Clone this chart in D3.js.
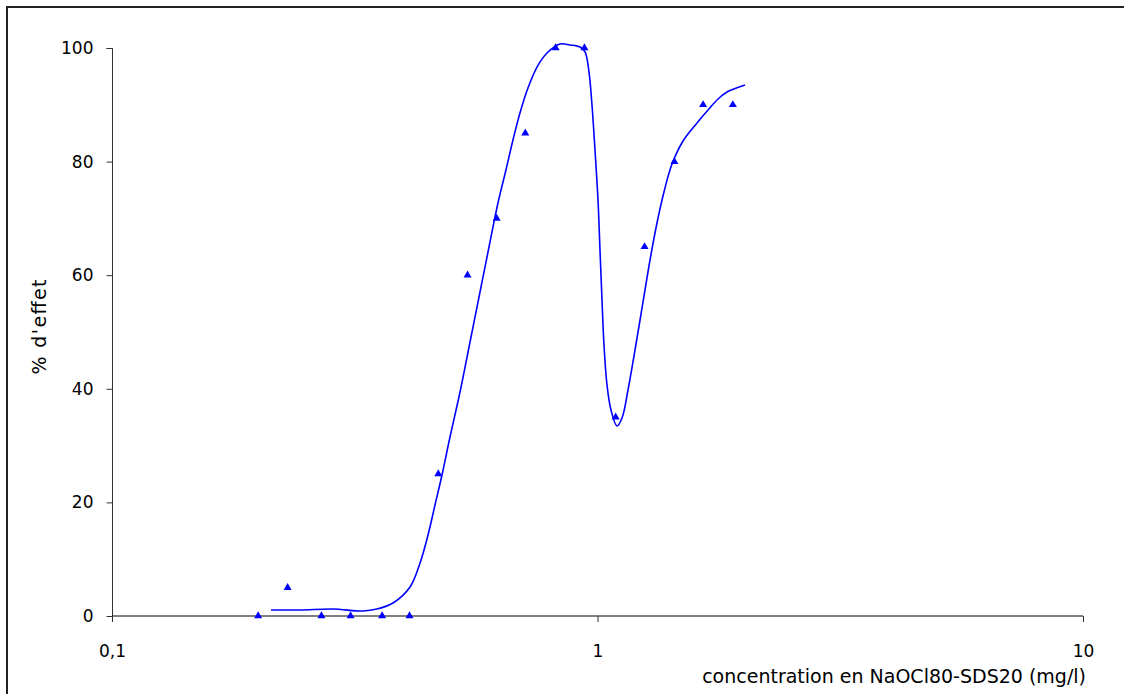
<!DOCTYPE html>
<html>
<head>
<meta charset="utf-8">
<script src="https://cdn.jsdelivr.net/npm/d3@7"></script>
<style>
  html, body { margin: 0; padding: 0; background: #fff; }
  svg { display: block; }
  text { font-family: Tahoma, "DejaVu Sans", sans-serif; fill: #000; }
</style>
</head>
<body>
<svg id="chart" width="1124" height="694"></svg>
<script>
// Observed data points (concentration in mg/l, % effect)
const concentrations = [0.20, 0.23, 0.27, 0.31, 0.36, 0.41, 0.47, 0.54, 0.62, 0.71, 0.82, 0.94, 1.09, 1.25, 1.44, 1.65, 1.90];
const effects        = [0,    5,    0,    0,    0,    0,    25,   60,   70,   85,   100,  100,  35,   65,   80,   90,   90];

// Trend curve
const curveX = [0.2126, 0.2439, 0.2852, 0.3289, 0.3513, 0.3792, 0.411, 0.431, 0.4476, 0.4627, 0.4783, 0.4968,
                0.521, 0.5463, 0.5728, 0.6006, 0.6237, 0.6478, 0.6697, 0.6923, 0.7191, 0.7506, 0.787, 0.8373,
                0.8779, 0.9205, 0.9425, 0.9605, 0.9742, 0.9882, 1.0024, 1.0119, 1.0216, 1.0313, 1.0461, 1.0661,
                1.0969, 1.1233, 1.1557, 1.1947, 1.2352, 1.2765, 1.3196, 1.3706, 1.4239, 1.5003, 1.6031, 1.6891,
                1.771, 1.8481, 2.0125];
const curveY = [1.06, 1.06, 1.23, 0.88, 1.23, 2.29, 5.1, 9.33, 14.26, 19.54, 24.82, 31.51,
                39.44, 48.24, 57.04, 65.85, 72.71, 78.52, 83.8, 88.56, 92.96, 96.65, 99.12, 100.7,
                100.53, 100.18, 99.3, 95.77, 89.96, 82.04, 73.24, 64.44, 55.63, 47.71, 40.67, 36.27,
                33.45, 34.86, 39.79, 46.83, 54.23, 61.62, 68.31, 74.65, 79.58, 83.63, 86.8, 89.08,
                91.02, 92.25, 93.49];

const xTickValues = [0.1, 1, 10];
const xTickLabels = ["0,1", "1", "10"];
const yTickValues = [0, 20, 40, 60, 80, 100];
const yTickLabels = ["0", "20", "40", "60", "80", "100"];

const xTitle = "concentration en NaOCl80-SDS20 (mg/l)";
const yTitle = "% d'effet";

const svg = d3.select("#chart");
const FS = 17;
const TFS = 19;

// outer border (right and bottom edges fall outside the picture)
svg.append("rect")
  .attr("x", 7).attr("y", 7).attr("width", 1130).attr("height", 700)
  .attr("fill", "none").attr("stroke", "#222").attr("stroke-width", 2);

const x = d3.scaleLog().domain([0.1, 10]).range([112, 1083]);
const y = d3.scaleLinear().domain([0, 100]).range([616, 48]);

// Y axis
const yAxis = d3.axisLeft(y)
  .tickValues(yTickValues)
  .tickFormat((d, i) => yTickLabels[i])
  .tickSize(6).tickPadding(13);
const gy = svg.append("g").attr("transform", "translate(112.5,0)").call(yAxis);
gy.select(".domain").attr("stroke", "#333").attr("stroke-width", 1).attr("d", `M-6,${y(100)+0.5}H0V${y(0)}`);
gy.selectAll(".tick line").attr("stroke", "#333");
gy.selectAll(".tick text").attr("font-size", FS).attr("font-family", "Tahoma, 'DejaVu Sans', sans-serif");

// X axis
const xAxis = d3.axisBottom(x)
  .tickValues(xTickValues)
  .tickFormat((d, i) => xTickLabels[i])
  .tickSize(6).tickPadding(23);
const gx = svg.append("g").attr("transform", "translate(0,616)").call(xAxis);
gx.select(".domain").attr("stroke", "#000").attr("stroke-width", 1).attr("d", `M${x(0.1)},0H${x(10)}`);
gx.selectAll(".tick line").attr("stroke", "#333");
gx.selectAll(".tick text").attr("font-size", FS).attr("font-family", "Tahoma, 'DejaVu Sans', sans-serif");

// Titles
svg.append("text")
  .attr("x", 1086).attr("y", 683)
  .attr("text-anchor", "end")
  .attr("font-size", TFS)
  .text(xTitle);

svg.append("text")
  .attr("transform", "translate(46,327) rotate(-90)")
  .attr("text-anchor", "middle")
  .attr("font-size", TFS)
  .attr("textLength", 95)
  .attr("lengthAdjust", "spacing")
  .text(yTitle);

// Trend curve
const curvePts = curveX.map((cx, i) => [cx, curveY[i]]);
svg.append("path")
  .datum(curvePts)
  .attr("fill", "none")
  .attr("stroke", "#0000ff")
  .attr("stroke-width", 1.6)
  .attr("d", d3.line().x(d => x(d[0])).y(d => y(d[1])).curve(d3.curveCatmullRom.alpha(0.5)));

// Markers
const tri = d3.symbol().type(d3.symbolTriangle).size(28);
svg.append("g").selectAll("path")
  .data(concentrations.map((c, i) => [c, effects[i]]))
  .join("path")
  .attr("transform", d => `translate(${x(d[0])},${y(d[1])})`)
  .attr("d", tri)
  .attr("fill", "#0000ff");
</script>
</body>
</html>
